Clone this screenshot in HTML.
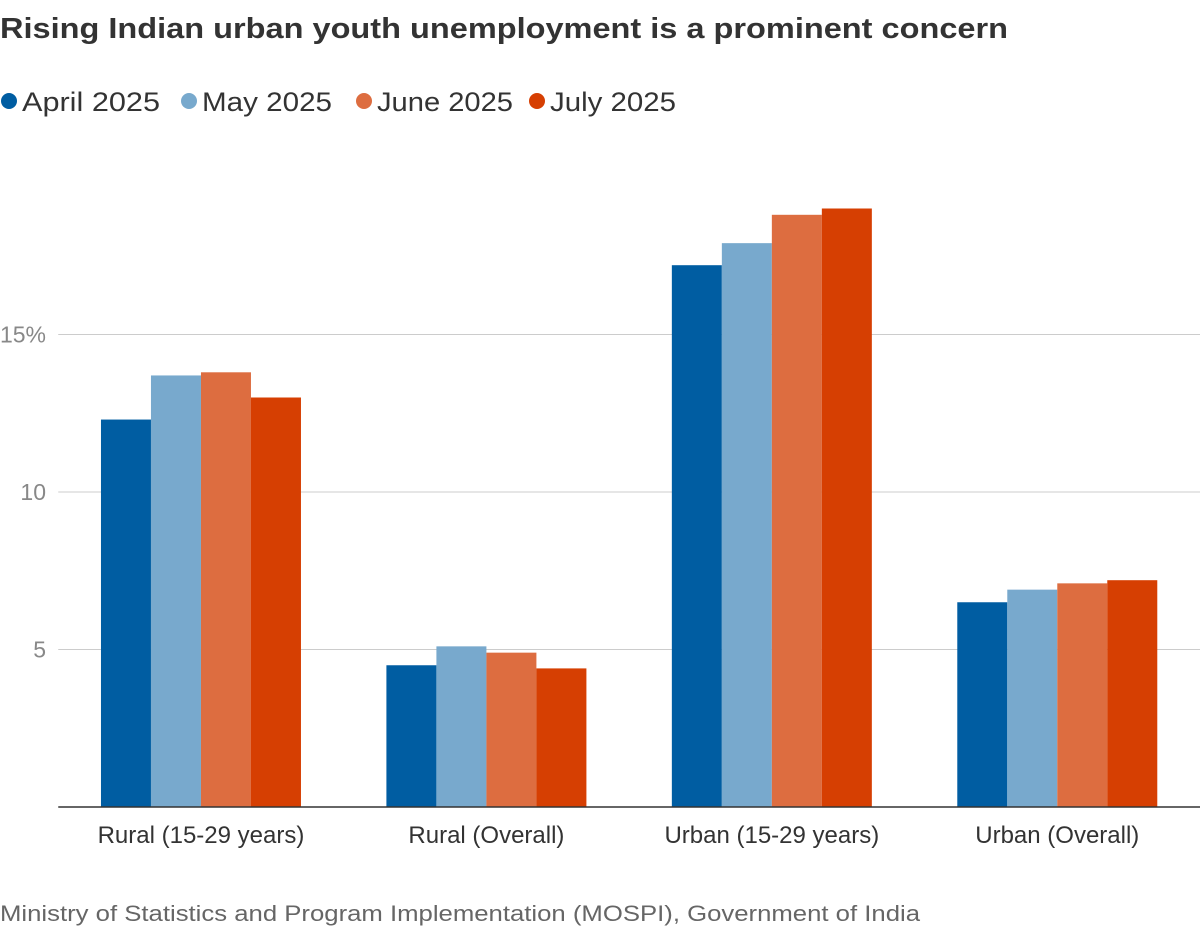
<!DOCTYPE html>
<html><head><meta charset="utf-8"><style>
body{margin:0;background:#fff;width:1200px;height:930px;overflow:hidden;font-family:"Liberation Sans",sans-serif}
</style></head><body>
<svg id="chart" width="1200" height="930" font-family="Liberation Sans, sans-serif">
<text x="0" y="38" font-size="29" font-weight="bold" fill="#333" textLength="1008" lengthAdjust="spacingAndGlyphs">Rising Indian urban youth unemployment is a prominent concern</text>
<g id="legend"></g>
<g id="grid"></g>
<g id="bars"></g>
<g id="xlabels"></g>
<text x="0" y="921" font-size="22" fill="#666" textLength="920" lengthAdjust="spacingAndGlyphs">Ministry of Statistics and Program Implementation (MOSPI), Government of India</text>
</svg>
<script>
const categories = ["Rural (15-29 years)","Rural (Overall)","Urban (15-29 years)","Urban (Overall)"];
const seriesNames = ["April 2025","May 2025","June 2025","July 2025"];
const april = [12.3,4.5,17.2,6.5];
const may = [13.7,5.1,17.9,6.9];
const june = [13.8,4.9,18.8,7.1];
const july = [13.0,4.4,19.0,7.2];
const ticks = [5,10,15];
const tickLabels = ["5","10","15%"];
const series = [april,may,june,july];
const colors = ["#005da2","#78a9cd","#dd6d40","#d63f02"];
const NS="http://www.w3.org/2000/svg";
const x0=58.25, x1=1200, y0=807, pxPer=31.5;
const y = v => y0 - v*pxPer;
const gw=(x1-x0)/categories.length, bw=50;
function mk(tag,attrs,parent){const e=document.createElementNS(NS,tag);for(const k in attrs)e.setAttribute(k,attrs[k]);parent.appendChild(e);return e;}
const grid=document.getElementById('grid');
ticks.forEach((t,i)=>{
  const l=mk('line',{x1:x0,x2:x1,y1:y(t),y2:y(t),stroke:'#ccc','stroke-width':1},grid);
  
  
  const tx=mk('text',{x:46,y:y(t)+8,'font-size':23,fill:'#888','text-anchor':'end'},grid);
  tx.textContent=tickLabels[i];
  
  
});
const bars=document.getElementById('bars');
const xl=document.getElementById('xlabels');
categories.forEach((c,ci)=>{
  const cx=x0+gw*(ci+0.5);
  series.forEach((s,si)=>{
    const r=mk('rect',{x:cx-100+si*bw,y:y(s[ci]),width:bw,height:s[ci]*pxPer,fill:colors[si]},bars);
    
    
  });
  const t=mk('text',{x:cx,y:843,'font-size':24,fill:'#333','text-anchor':'middle'},xl);
  t.textContent=c;
  
  
});
const ax=mk('line',{x1:x0,x2:x1,y1:y0,y2:y0,stroke:'#333','stroke-width':1.5},bars);


const lg=document.getElementById('legend');
const lx=[0,180,355,528];
const lw=[138,130,136,126];
seriesNames.forEach((n,i)=>{
  const g=mk('g',{},lg);
  
  
  mk('circle',{cx:lx[i]+9,cy:101,r:8,fill:colors[i]},g);
  const t=mk('text',{x:lx[i]+22,y:111,'font-size':27,fill:'#333',textLength:lw[i],lengthAdjust:'spacingAndGlyphs'},g);
  t.textContent=n;
});
</script>
</body></html>
